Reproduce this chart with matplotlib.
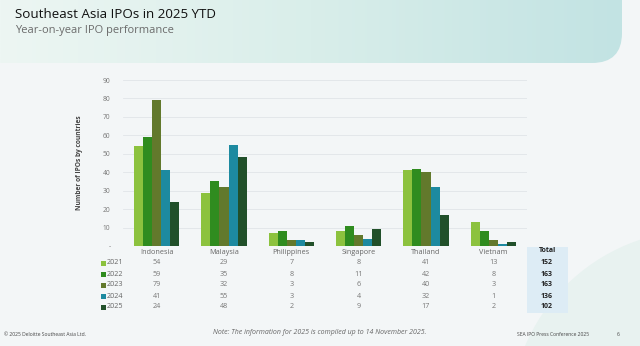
import numpy as np
import matplotlib
matplotlib.use("Agg")
import matplotlib.pyplot as plt
from matplotlib.patches import FancyBboxPatch, Rectangle
from matplotlib.colors import LinearSegmentedColormap
from matplotlib import transforms

plt.rcParams['font.family'] = ['Open Sans', 'DejaVu Sans']

# data
countries = ["Indonesia", "Malaysia", "Philippines", "Singapore", "Thailand", "Vietnam"]
years = ["2021", "2022", "2023", "2024", "2025"]
ipo_2021 = [54, 29, 7, 8, 41, 13]
ipo_2022 = [59, 35, 8, 11, 42, 8]
ipo_2023 = [79, 32, 3, 6, 40, 3]
ipo_2024 = [41, 55, 3, 4, 32, 1]
ipo_2025 = [24, 48, 2, 9, 17, 2]
totals = [152, 163, 163, 136, 102]
series = [ipo_2021, ipo_2022, ipo_2023, ipo_2024, ipo_2025]
colors = ["#8cc23e", "#2f8c1f", "#62792c", "#1d8aa0", "#21502a"]

W, H = 640, 346
fig = plt.figure(figsize=(W / 100, H / 100), dpi=100)
fig.patch.set_facecolor("#f3f6f7")

# background panel (top band with gradient)
bg = fig.add_axes([0, 0, 1, 1])
bg.set_xlim(0, W)
bg.set_ylim(H, 0)
bg.axis("off")
grad = np.linspace(0, 1, 256).reshape(1, -1)
cmap = LinearSegmentedColormap.from_list("band", ["#edf6f3", "#d9eeea", "#c2e3e3"])
im = bg.imshow(grad, extent=[0, 622, 63, -20], aspect="auto", cmap=cmap, zorder=0)
clip = FancyBboxPatch((-30, -40), 652, 103, boxstyle="round,pad=0,rounding_size=30",
                      transform=bg.transData, facecolor="none", edgecolor="none")
bg.add_patch(clip)
im.set_clip_path(clip)

# bottom right soft curve
bg.add_patch(plt.Circle((700, 420), 190, facecolor="#e8f2f0", edgecolor="none", zorder=0))

# title
fig.text(15 / W, 1 - 14 / H, "Southeast Asia IPOs in 2025 YTD", fontsize=9.6,
         color="#111111", va="center", ha="left")
fig.text(15 / W, 1 - 31 / H, "Year-on-year IPO performance", fontsize=8,
         color="#6b6b6b", va="center", ha="left")

# main axes
ax = fig.add_axes([123 / W, 1 - 246 / H, 404 / W, 166 / H])
ax.patch.set_alpha(0)
x = np.arange(len(countries))
bw = 0.135
for i, (vals, c) in enumerate(zip(series, colors)):
    ax.bar(x + (i - 2) * bw, vals, width=bw, color=c, zorder=3)

ax.set_xlim(-0.5, 5.5)
ax.set_ylim(0, 90)
ax.set_yticks(np.arange(0, 91, 10))
ax.set_yticklabels(["-"] + [str(v) for v in range(10, 91, 10)])
ax.set_xticks(x)
ax.set_xticklabels(countries)
ax.tick_params(axis="y", length=0, pad=9, labelsize=4.8, labelcolor="#777777")
ax.tick_params(axis="x", length=0, pad=2, labelsize=5.2, labelcolor="#666666")
ax.grid(axis="y", color="#e1e5e8", linewidth=0.6, zorder=0)
for s in ax.spines.values():
    s.set_visible(False)
ax.set_ylabel("Number of IPOs by countries", fontsize=4.8, color="#444444",
              fontweight="bold", labelpad=14)

# data table below
trans = transforms.blended_transform_factory(ax.transData, fig.transFigure)
row_y = [263, 274, 285, 296, 307]

# total box
bg.add_patch(Rectangle((527, 247), 41, 66, facecolor="#ddecf5", edgecolor="none", zorder=1))
fig.text(547 / W, 1 - 250 / H, "Total", fontsize=5, fontweight="bold",
         color="#222222", ha="center", va="center")

for r, (yr, vals, c) in enumerate(zip(years, series, colors)):
    yy = 1 - row_y[r] / H
    bg.add_patch(Rectangle((101, row_y[r] - 2.5), 5, 5, facecolor=c, edgecolor="none", zorder=2))
    fig.text(106.5 / W, yy, yr, fontsize=5.2, color="#666666", ha="left", va="center")
    for j, v in enumerate(vals):
        ax.text(j, yy, str(v), transform=trans, fontsize=5.2, color="#777777",
                ha="center", va="center")
    fig.text(547 / W, yy, str(totals[r]), fontsize=5, fontweight="bold",
             color="#222222", ha="center", va="center")

# footer
fig.text(320 / W, 1 - 332 / H,
         "Note: The information for 2025 is compiled up to 14 November 2025.",
         fontsize=5, style="italic", color="#666666", ha="center", va="center")
fig.text(4 / W, 1 - 334 / H, "\u00a9 2025 Deloitte Southeast Asia Ltd.", fontsize=3.6,
         color="#444444", ha="left", va="center")
fig.text(517 / W, 1 - 335 / H, "SEA IPO Press Conference 2025", fontsize=3.6,
         color="#444444", ha="left", va="center")
fig.text(618 / W, 1 - 335 / H, "6", fontsize=3.6, color="#444444", ha="center", va="center")

fig.savefig("out.png", dpi=100, facecolor=fig.get_facecolor())
